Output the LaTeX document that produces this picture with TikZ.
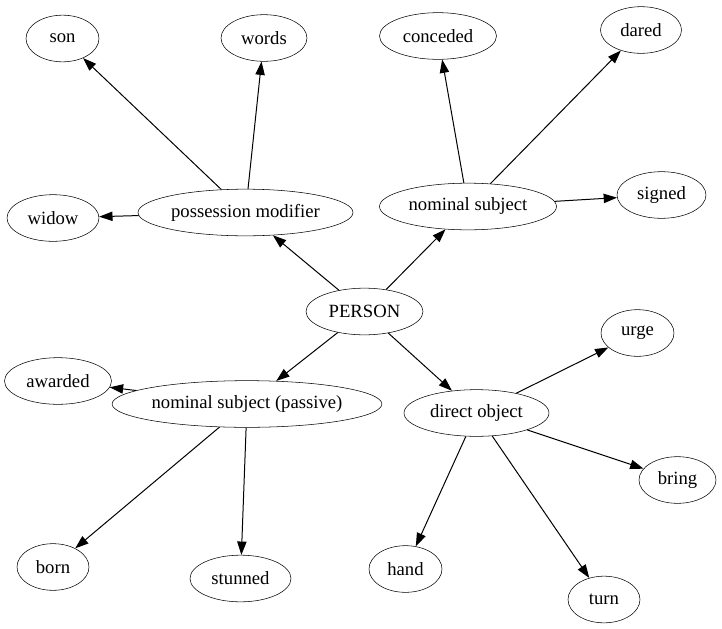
\documentclass[tikz,border=0pt]{standalone}
\usepackage{fontspec}
\setmainfont{Liberation Serif}
\usetikzlibrary{shapes.geometric, arrows.meta}

\begin{document}
\begin{tikzpicture}[x=0.75pt, y=-0.75pt,
  word/.style={draw, ellipse, inner sep=0pt, minimum height=35pt, font=\fontsize{14}{16}\selectfont},
  dep/.style={-{Triangle[length=10pt, width=7pt]}, line width=0.75pt}]

\useasboundingbox (0,0) rectangle (722,629);

\node[word, minimum width=87.75pt] (0) at (364.5,311.5) {PERSON};

\node[word, minimum width=161.25pt] (1) at (245.5,212.5) {possession modifier};
\node[word, minimum width=132.75pt] (2) at (468,206.5) {nominal subject};
\node[word, minimum width=201pt] (3) at (247,404) {nominal subject (passive)};
\node[word, minimum width=108.75pt] (4) at (476.5,413) {direct object};

\node[word, minimum width=54.75pt] (5) at (62.5,38.5) {son};
\node[word, minimum width=64.5pt] (6) at (264,38) {words};
\node[word, minimum width=69pt] (7) at (53,218) {widow};

\node[word, minimum width=87.75pt] (8) at (438,36) {conceded};
\node[word, minimum width=60.75pt] (9) at (641,30) {dared};
\node[word, minimum width=66.75pt] (10) at (661.5,195) {signed};

\node[word, minimum width=80.25pt] (11) at (58,381) {awarded};
\node[word, minimum width=54pt] (12) at (53,567) {born};
\node[word, minimum width=75.75pt] (13) at (240.5,578.5) {stunned};

\node[word, minimum width=54.75pt] (14) at (637.5,333) {urge};
\node[word, minimum width=57.75pt] (15) at (677.5,480) {bring};
\node[word, minimum width=54.75pt] (16) at (405.5,569) {hand};
\node[word, minimum width=54pt] (17) at (604,599.5) {turn};

\path[draw, dep] (0) -- (1);
\path[draw, dep] (0) -- (2);
\path[draw, dep] (0) -- (3);
\path[draw, dep] (0) -- (4);

\path[draw, dep] (1) -- (5);
\path[draw, dep] (1) -- (6);
\path[draw, dep] (1) -- (7);

\path[draw, dep] (2) -- (8);
\path[draw, dep] (2) -- (9);
\path[draw, dep] (2) -- (10);

\path[draw, dep] (3) -- (11);
\path[draw, dep] (3) -- (12);
\path[draw, dep] (3) -- (13);

\path[draw, dep] (4) -- (14);
\path[draw, dep] (4) -- (15);
\path[draw, dep] (4) -- (16);
\path[draw, dep] (4) -- (17);

\end{tikzpicture}
\end{document}
